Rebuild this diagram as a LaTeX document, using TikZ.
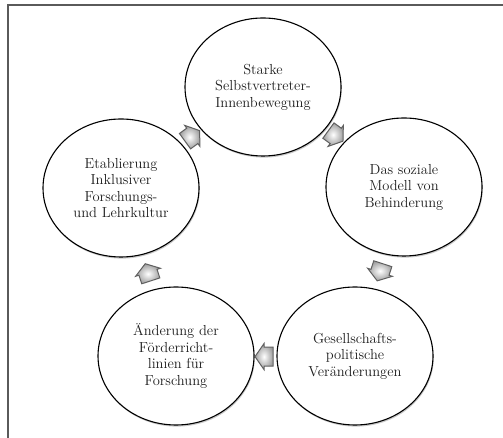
\documentclass[tikz,border=0pt]{standalone}
\usetikzlibrary{shapes.geometric,shadows}
\definecolor{txtgray}{HTML}{1E1E1E}
\definecolor{framegray}{HTML}{5A5A5A}
\definecolor{arrowedge}{HTML}{606060}
\tikzset{
  cyclenode/.style={ellipse, draw=black, line width=1.1pt, fill=white,
    minimum width=156pt, minimum height=138pt, inner sep=0pt,
    align=center, text=txtgray, font=\fontsize{14.5}{16.5}\selectfont,
    drop shadow={shadow xshift=0.8pt, shadow yshift=-1.6pt, opacity=0.35, fill=black!60}},
  arrowbody/.style={draw=arrowedge, line width=1pt, line join=miter,
    inner color=white, outer color=black!38, shading=radial},
  cyclearrow/.pic={
    \path[arrowbody] (9,0) -- (0,13) -- (0,9.5) -- (-9,9.5) -- (-9,-9.5) -- (0,-9.5) -- (0,-13) -- cycle;
  }
}
\begin{document}
\begin{tikzpicture}[x=1pt,y=1pt]
\useasboundingbox (0,0) rectangle (503,438);
\fill[white] (0,0) rectangle (503,438);
% frame (open at right and bottom)
\coordinate (fbl) at (8,0);
\coordinate (ftl) at (8,433);
\coordinate (ftr) at (503,433);
\draw[framegray, line width=1.5pt] (fbl) -- (ftl) -- (ftr);
% nodes
\node[cyclenode] (top)   at (263,351) {Starke\\Selbstvertreter-\\Innenbewegung};
\node[cyclenode] (right) at (404,251) {Das soziale\\Modell von\\Behinderung};
\node[cyclenode] (br)    at (355,82)  {Gesellschafts-\\politische\\Veränderungen};
\node[cyclenode] (bl)    at (176,82)  {Änderung der\\Förderricht-\\linien für\\Forschung};
\node[cyclenode] (left)  at (121,250) {Etablierung\\Inklusiver\\Forschungs-\\und Lehrkultur};
% cycle arrows
\pic[rotate=-36]  at (335.7,302.1) {cyclearrow};
\pic[rotate=-108] at (380.0,165.7) {cyclearrow};
\pic[rotate=180]  at (264.0,81.4)  {cyclearrow};
\pic[rotate=108]  at (148.0,165.7) {cyclearrow};
\pic[rotate=36]   at (192.3,302.1) {cyclearrow};
\end{tikzpicture}
\end{document}
